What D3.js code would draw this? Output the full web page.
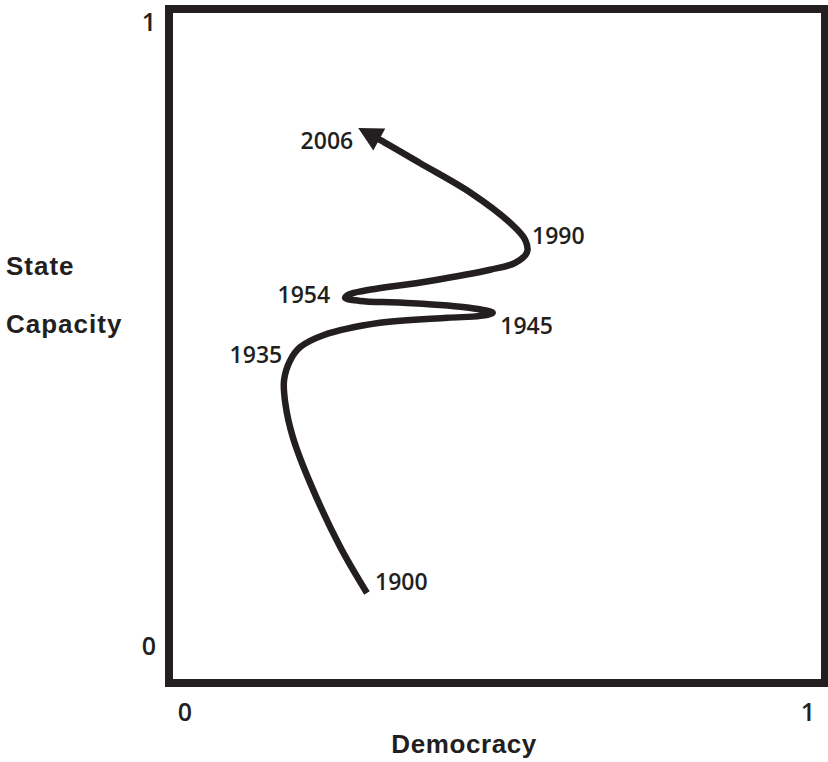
<!DOCTYPE html>
<html>
<head>
<meta charset="utf-8">
<script src="https://cdn.jsdelivr.net/npm/d3@7"></script>
<style>
  html, body { margin: 0; padding: 0; background: #fff; }
  svg { display: block; }
</style>
</head>
<body>
<svg id="chart" width="828" height="762"></svg>
<script>
// ---- data (0..1 scales) ----
const democracy = [0.292, 0.249, 0.201, 0.173, 0.161, 0.159, 0.169, 0.185, 0.222, 0.313, 0.421, 0.474, 0.494,
                   0.456, 0.350, 0.281, 0.257, 0.265, 0.286, 0.393, 0.490, 0.530, 0.549, 0.546, 0.522, 0.459, 0.377, 0.313, 0.278];
const capacity  = [0.085, 0.159, 0.261, 0.335, 0.389, 0.426, 0.458, 0.479, 0.498, 0.518, 0.526, 0.529, 0.534,
                   0.542, 0.550, 0.553, 0.558, 0.564, 0.569, 0.585, 0.603, 0.614, 0.631, 0.651, 0.678, 0.726, 0.774, 0.811, 0.830];
const years     = ["1900", "1935", "1945", "1954", "1990", "2006"];
const yearX     = [0.305, 0.156, 0.506, 0.233, 0.557, 0.270];
const yearY     = [0.090, 0.454, 0.500, 0.550, 0.644, 0.796];
const yearAnchor= ["start", "end", "start", "end", "start", "end"];
const axisTicks = ["0", "1"];
const xTitle = "Democracy";
const yTitle = ["State", "Capacity"];

const ink = "#231f20";
const svg = d3.select("#chart");
const x = d3.scaleLinear().domain([0, 1]).range([185, 808]);
const y = d3.scaleLinear().domain([0, 1]).range([646, 22]);

// frame
const fx0 = x(0) - 16, fx1 = x(1) + 17, fy0 = y(1) - 13, fy1 = y(0) + 37;
svg.append("rect")
  .attr("x", fx0).attr("y", fy0)
  .attr("width", fx1 - fx0).attr("height", fy1 - fy0)
  .attr("fill", "none").attr("stroke", ink).attr("stroke-width", 8);

// tick labels
const tickFont = "'Open Sans', sans-serif";
svg.selectAll("text.xt").data(axisTicks).join("text")
  .attr("class", "xt")
  .attr("x", d => x(+d)).attr("y", fy1 + 38)
  .attr("text-anchor", "middle")
  .attr("font-family", tickFont).attr("font-weight", 600).attr("font-size", 25)
  .attr("fill", ink).text(d => d);
svg.selectAll("text.yt").data(axisTicks).join("text")
  .attr("class", "yt")
  .attr("x", fx0 - 20).attr("y", d => y(+d)).attr("dy", "0.36em")
  .attr("text-anchor", "middle")
  .attr("font-family", tickFont).attr("font-weight", 600).attr("font-size", 25)
  .attr("fill", ink).text(d => d);

// axis titles
const titleFont = "'Liberation Sans', Arial, sans-serif";
svg.append("text")
  .attr("x", x(0.448)).attr("y", fy1 + 70)
  .attr("text-anchor", "middle")
  .attr("font-family", titleFont).attr("font-weight", "bold").attr("font-size", 26)
  .attr("letter-spacing", 0.6)
  .attr("fill", ink).text(xTitle);
svg.selectAll("text.yttl").data(yTitle).join("text")
  .attr("class", "yttl")
  .attr("x", 6).attr("y", (d, i) => 275 + i * 58)
  .attr("font-family", titleFont).attr("font-weight", "bold").attr("font-size", 26)
  .attr("letter-spacing", 1)
  .attr("fill", ink).text(d => d);

// curve
const pts = democracy.map((d, i) => [x(d), y(capacity[i])]);
const line = d3.line().curve(d3.curveCatmullRom.alpha(0.5));
const path = svg.append("path")
  .attr("d", line(pts))
  .attr("fill", "none").attr("stroke", ink).attr("stroke-width", 6.5)
  .attr("stroke-linecap", "butt").attr("stroke-linejoin", "round");

// arrowhead at the end
const node = path.node();
const L = node.getTotalLength();
const headLen = 24, headW = 25;
path.attr("stroke-dasharray", `${L - headLen + 2} ${L}`);
const tip = node.getPointAtLength(L);
const back = node.getPointAtLength(L - headLen);
const ang = Math.atan2(tip.y - back.y, tip.x - back.x);
const bx = tip.x - headLen * Math.cos(ang), by = tip.y - headLen * Math.sin(ang);
const px = -Math.sin(ang) * headW / 2, py = Math.cos(ang) * headW / 2;
svg.append("path")
  .attr("d", `M${tip.x},${tip.y}L${bx + px},${by + py}L${bx - px},${by - py}Z`)
  .attr("fill", ink);

// year labels
svg.selectAll("text.yr").data(years).join("text")
  .attr("class", "yr")
  .attr("x", (d, i) => x(yearX[i])).attr("y", (d, i) => y(yearY[i]))
  .attr("text-anchor", (d, i) => yearAnchor[i])
  .attr("font-family", tickFont).attr("font-weight", 600).attr("font-size", 23)
  .attr("fill", ink).text(d => d);
</script>
</body>
</html>
